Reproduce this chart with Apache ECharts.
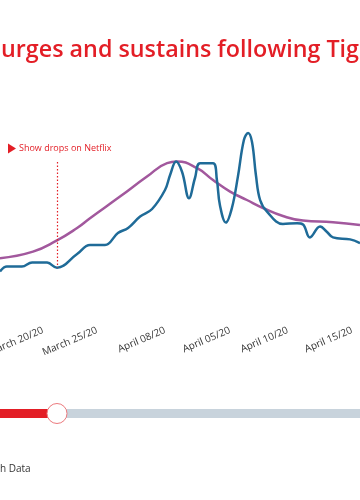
<!DOCTYPE html>
<html>
<head>
<meta charset="utf-8">
<script src="https://cdn.jsdelivr.net/npm/echarts@6/dist/echarts.min.js"></script>
<style>
  html, body { margin: 0; padding: 0; background: #ffffff; overflow: hidden; }
  #chart { width: 360px; height: 500px; }
</style>
</head>
<body>
<div id="chart"></div>
<script>
// ---- data ----
var titleText = 'urges and sustains following Tige';
var annotationText = 'Show drops on Netflix';
var sourceText = 'h Data';

// x positions (arbitrary time units), search interest values
var blueX = [0, 2.3, 7.3, 10.7, 15.7, 19, 25.7, 30, 35, 39.3, 42.7, 46.7, 50.7, 55, 56.7, 58.7, 60.7, 63, 65, 66.7, 71, 72.3, 73.3, 75.3, 77.3, 79.3, 81.3, 82.7, 84, 85.3, 86.7, 89, 94.3, 99, 101, 103.3, 106.7, 109, 111, 116.7, 120];
var blueY = [19.2, 21.7, 21.7, 23.8, 23.7, 21.1, 28, 32.5, 32.5, 38.5, 41, 46.7, 50.5, 60, 67.5, 74.2, 69, 55.9, 66, 73.4, 73.4, 65, 52.5, 43.7, 51, 66.7, 85, 88.5, 84, 67.5, 55, 49.2, 43, 43.4, 42.8, 36.3, 41.7, 39, 36.3, 35.3, 33.4];

var trendX = [0, 11, 19, 25.7, 30, 40, 49, 55.7, 59, 65.7, 71, 76.7, 82.3, 87.7, 94.3, 101, 111, 120];
var trendY = [25.9, 29.2, 34.8, 41, 45.9, 56.7, 66.7, 73.4, 74.2, 70.9, 65, 59.2, 55, 51, 47, 44.7, 43.9, 42.5];

var tickValues = [14.3, 32.3, 55, 76.6, 95.9, 117.3];
var tickLabels = ['March 20/20', 'March 25/20', 'April 08/20', 'April 05/20', 'April 10/20', 'April 15/20'];

var releaseX = 19.17;
var releaseTop = 74;
var releaseBottom = 21.3;

function pairs(xs, ys) {
  var out = [];
  for (var i = 0; i < xs.length; i++) out.push([xs[i], ys[i]]);
  return out;
}

var RED = '#e31e26';
var chart = echarts.init(document.getElementById('chart'), null, { renderer: 'canvas' });
chart.setOption({
  animation: false,
  backgroundColor: '#ffffff',
  grid: { left: 0, right: 0, top: 110, bottom: 190, containLabel: false, outerBoundsMode: 'none' },
  xAxis: {
    type: 'value', min: 0, max: 120,
    axisLine: { show: false }, axisTick: { show: false }, splitLine: { show: false },
    axisLabel: {
      customValues: tickValues,
      rotate: 23, margin: 20,
      fontFamily: 'Open Sans', fontSize: 10, color: '#333333',
      hideOverlap: false,
      formatter: function (v) {
        for (var i = 0; i < tickValues.length; i++) {
          if (Math.abs(tickValues[i] - v) < 0.01) return tickLabels[i];
        }
        return '';
      }
    }
  },
  yAxis: { type: 'value', min: 0, max: 100, show: false },
  series: [
    {
      type: 'line', name: 'Trend', data: pairs(trendX, trendY),
      smooth: 0.5, symbol: 'none',
      lineStyle: { color: '#a2589d', width: 2.5 },
      z: 2
    },
    {
      type: 'line', name: 'Search interest', data: pairs(blueX, blueY),
      smooth: 0.4, symbol: 'none',
      lineStyle: { color: '#1f6b98', width: 2.5 },
      z: 3,
      markLine: {
        silent: true, symbol: 'none', label: { show: false },
        emphasis: { disabled: true },
        lineStyle: { color: RED, type: [1.5, 2], width: 1.2, opacity: 1 },
        data: [[{ coord: [releaseX, releaseTop] }, { coord: [releaseX, releaseBottom] }]]
      }
    }
  ],
  graphic: [
    {
      type: 'text', left: 1, top: 39,
      style: { text: titleText, fill: RED, font: '600 23.3px "Open Sans"' }
    },
    {
      type: 'polygon', shape: { points: [[8, 143.5], [16, 148.5], [8, 153.5]] },
      style: { fill: RED }
    },
    {
      type: 'text', left: 19, top: 144,
      style: { text: annotationText, fill: RED, font: '9px "Open Sans"' }
    },
    { type: 'rect', shape: { x: 0, y: 409, width: 360, height: 9 }, style: { fill: '#c8d3dc' } },
    { type: 'rect', shape: { x: 0, y: 409, width: 57, height: 9 }, style: { fill: RED } },
    {
      type: 'circle', shape: { cx: 57, cy: 413.5, r: 10 },
      style: { fill: '#ffffff', stroke: '#ec7a7e', lineWidth: 1 }
    },
    {
      type: 'text', left: 0, top: 464,
      style: { text: sourceText, fill: '#333333', font: '10px "Open Sans"' }
    }
  ]
});
</script>
</body>
</html>
